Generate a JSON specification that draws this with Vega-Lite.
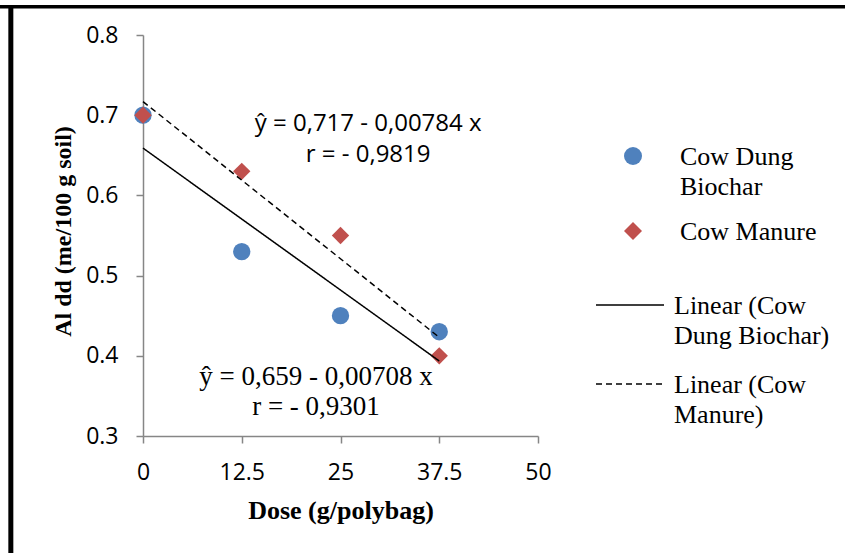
{
  "$schema": "https://vega.github.io/schema/vega-lite/v6.json",
  "autosize": {"type": "none"},
  "padding": {"left": 143, "top": 35, "right": 307, "bottom": 117},
  "width": 395,
  "height": 401,
  "background": "white",
  "config": {
    "view": {"stroke": null},
    "font": "Open Sans",
    "axis": {
      "domainColor": "#868686", "domainWidth": 1.5,
      "tickColor": "#868686", "tickWidth": 1.5, "tickSize": 7,
      "grid": false,
      "labelFont": "Open Sans", "labelFontSize": 23, "labelColor": "black",
      "titleColor": "black", "labelPadding": 18,
      "labelFlush": false, "labelOverlap": false
    }
  },
  "layer": [
    {
      "data": {"values": [
        {"series": "Cow Dung Biochar", "dose": 0, "al": 0.70},
        {"series": "Cow Dung Biochar", "dose": 12.5, "al": 0.53},
        {"series": "Cow Dung Biochar", "dose": 25, "al": 0.45},
        {"series": "Cow Dung Biochar", "dose": 37.5, "al": 0.43},
        {"series": "Cow Manure", "dose": 0, "al": 0.70},
        {"series": "Cow Manure", "dose": 12.5, "al": 0.63},
        {"series": "Cow Manure", "dose": 25, "al": 0.55},
        {"series": "Cow Manure", "dose": 37.5, "al": 0.40}
      ]},
      "mark": {"type": "point", "filled": true, "opacity": 1, "size": 300, "strokeWidth": 0},
      "encoding": {
        "x": {"field": "dose", "type": "quantitative",
          "scale": {"domain": [0, 50], "nice": false},
          "axis": {"values": [0, 12.5, 25, 37.5, 50], "format": ".1~f",
            "title": "Dose (g/polybag)", "titleFont": "Liberation Serif", "titleFontSize": 26,
            "titleFontWeight": "bold", "titleBaseline": "alphabetic", "titleY": 82}},
        "y": {"field": "al", "type": "quantitative",
          "scale": {"domain": [0.3, 0.8], "nice": false, "zero": false},
          "axis": {"values": [0.3, 0.4, 0.5, 0.6, 0.7, 0.8], "format": ".1f",
            "title": "Al dd (me/100 g soil)", "titleFont": "Liberation Serif", "titleFontSize": 24,
            "titleFontWeight": "bold", "titleBaseline": "alphabetic", "titleAngle": -90,
            "titleX": -73, "titleY": 196}},
        "color": {"field": "series", "type": "nominal",
          "scale": {"domain": ["Cow Dung Biochar", "Cow Manure"], "range": ["#4F81BD", "#C0504D"]},
          "legend": {"title": null, "orient": "none", "legendX": 477, "legendY": 108,
            "padding": 0, "labelFont": "Liberation Serif", "labelFontSize": 26, "labelColor": "black",
            "labelLimit": 400, "symbolSize": 324, "symbolOpacity": 1, "symbolStrokeWidth": 0,
            "labelOffset": 34, "rowPadding": 18, "labelBaseline": "alphabetic",
            "labelExpr": "datum.label == 'Cow Dung Biochar' ? ['Cow Dung', 'Biochar'] : datum.label",
            "encode": {"labels": {"update": {"dy": {"value": 9}, "lineHeight": {"value": 30}}}}}},
        "shape": {"field": "series", "type": "nominal",
          "scale": {"domain": ["Cow Dung Biochar", "Cow Manure"], "range": ["circle", "diamond"]},
          "legend": {"title": null, "orient": "none", "legendX": 477, "legendY": 108,
            "padding": 0, "labelFont": "Liberation Serif", "labelFontSize": 26, "labelColor": "black",
            "labelLimit": 400, "symbolSize": 324, "symbolOpacity": 1, "symbolStrokeWidth": 0,
            "labelOffset": 34, "rowPadding": 18, "labelBaseline": "alphabetic",
            "labelExpr": "datum.label == 'Cow Dung Biochar' ? ['Cow Dung', 'Biochar'] : datum.label",
            "encode": {"labels": {"update": {"dy": {"value": 9}, "lineHeight": {"value": 30}}}}}}
      }
    },
    {
      "data": {"values": [
        {"series": "Linear (Cow Dung Biochar)", "dose": 0, "al": 0.659},
        {"series": "Linear (Cow Dung Biochar)", "dose": 37.5, "al": 0.3935},
        {"series": "Linear (Cow Manure)", "dose": 0, "al": 0.717},
        {"series": "Linear (Cow Manure)", "dose": 37.5, "al": 0.423}
      ]},
      "mark": {"type": "line", "color": "black", "strokeWidth": 1.5},
      "encoding": {
        "x": {"field": "dose", "type": "quantitative"},
        "y": {"field": "al", "type": "quantitative"},
        "strokeDash": {"field": "series", "type": "nominal",
          "scale": {"domain": ["Linear (Cow Dung Biochar)", "Linear (Cow Manure)"], "range": [[1, 0], [6, 4]]},
          "legend": {"title": null, "orient": "none", "legendX": 452, "legendY": 235,
            "padding": 0, "labelFont": "Liberation Serif", "labelFontSize": 26, "labelColor": "black",
            "labelLimit": 400, "symbolType": "stroke", "symbolSize": 4624,
            "symbolStrokeColor": "black", "symbolStrokeWidth": 1.5,
            "labelOffset": 9, "rowPadding": -17, "labelBaseline": "alphabetic",
            "labelExpr": "datum.label == 'Linear (Cow Dung Biochar)' ? ['Linear (Cow', 'Dung Biochar)'] : ['Linear (Cow', 'Manure)']",
            "encode": {"labels": {"update": {"dy": {"value": 9}, "lineHeight": {"value": 30}}}}}}
      }
    },
    {
      "data": {"values": [
        {"dose": 28.5, "al": 0.680, "t": "ŷ  = 0,717 - 0,00784 x"},
        {"dose": 28.5, "al": 0.6417, "t": "r = - 0,9819"}
      ]},
      "mark": {"type": "text", "font": "Open Sans", "fontSize": 24, "align": "center", "baseline": "alphabetic", "color": "black"},
      "encoding": {
        "x": {"field": "dose", "type": "quantitative"},
        "y": {"field": "al", "type": "quantitative"},
        "text": {"field": "t"}
      }
    },
    {
      "data": {"values": [
        {"dose": 21.9, "al": 0.3636, "t": "ŷ  = 0,659 - 0,00708 x"},
        {"dose": 21.9, "al": 0.3262, "t": "r = - 0,9301"}
      ]},
      "mark": {"type": "text", "font": "Liberation Serif", "fontSize": 27, "align": "center", "baseline": "alphabetic", "color": "black"},
      "encoding": {
        "x": {"field": "dose", "type": "quantitative"},
        "y": {"field": "al", "type": "quantitative"},
        "text": {"field": "t"}
      }
    },
    {
      "data": {"values": [{}]},
      "mark": {"type": "rule", "color": "black", "strokeWidth": 3.5},
      "encoding": {
        "x": {"datum": -19, "type": "quantitative"},
        "x2": {"datum": 90},
        "y": {"datum": 0.8353, "type": "quantitative"}
      }
    },
    {
      "data": {"values": [{}]},
      "mark": {"type": "rule", "color": "black", "strokeWidth": 5},
      "encoding": {
        "x": {"datum": -16.73, "type": "quantitative"},
        "y": {"datum": 0.8375, "type": "quantitative"},
        "y2": {"datum": 0.1}
      }
    }
  ]
}
